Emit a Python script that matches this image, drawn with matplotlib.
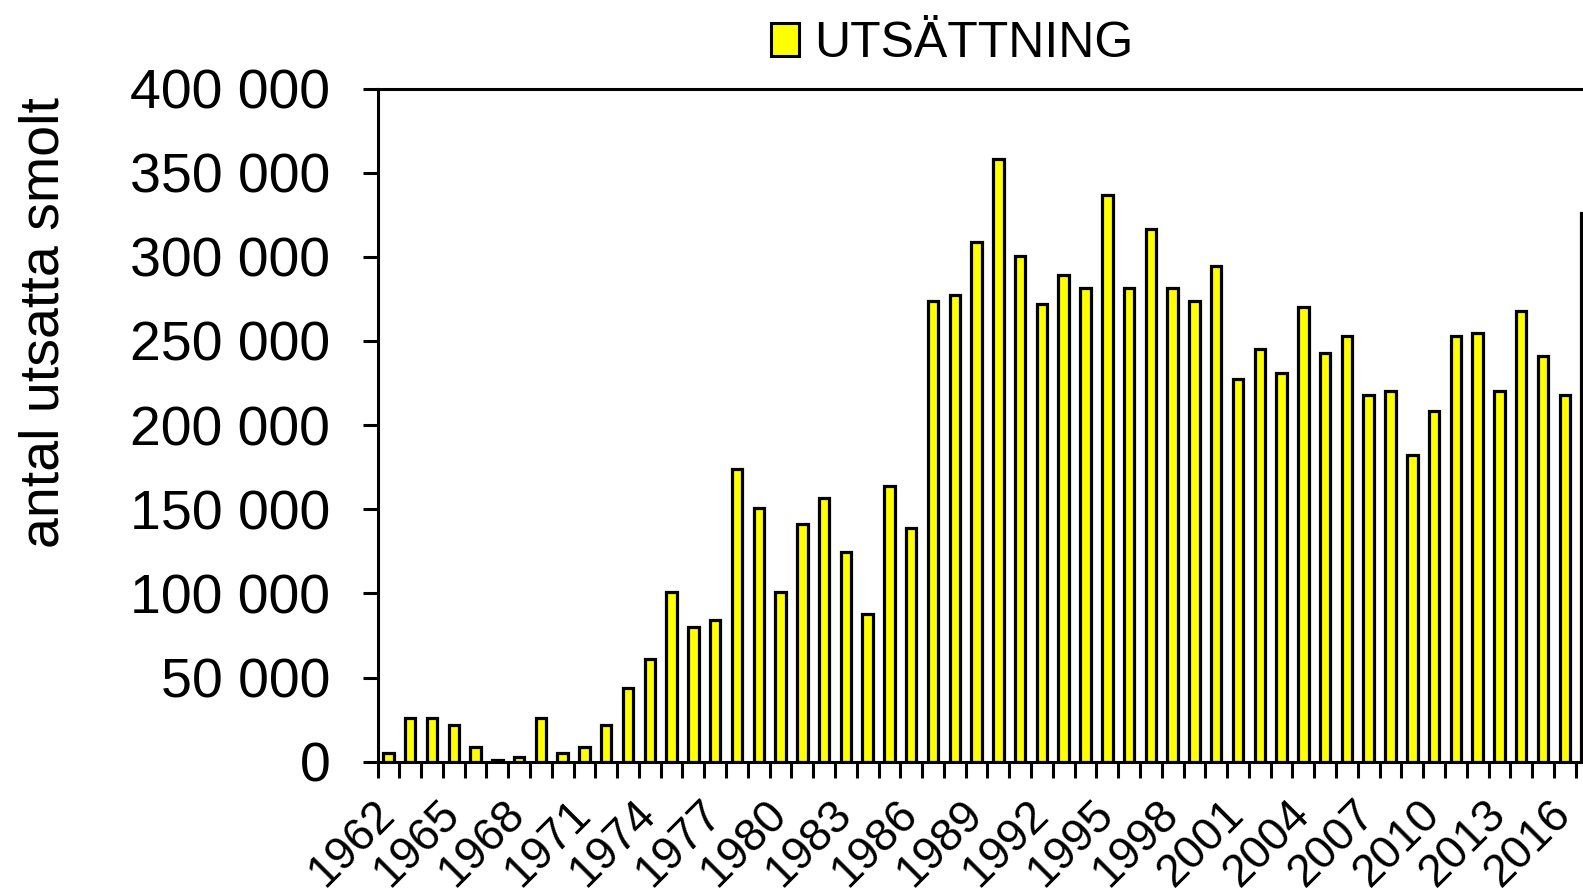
import matplotlib.pyplot as plt
import matplotlib.transforms as mtransforms
from matplotlib.patches import Patch
from matplotlib.ticker import FuncFormatter, MultipleLocator
import numpy as np

plt.rcParams['font.family'] = ['Liberation Sans', 'DejaVu Sans']

# --- DATA ---
years = list(range(1962, 2018))
smolt = [5000, 26000, 26000, 22000, 9000, 1000, 3000, 26000, 5000, 9000,
         22000, 43500, 61000, 101000, 80000, 84000, 174000, 151000, 101000, 141500,
         156500, 124500, 88000, 164000, 139000, 274000, 277500, 308500, 358000, 300500,
         272000, 289000, 281500, 337000, 281500, 316500, 281500, 274000, 294500, 227500,
         245000, 231000, 270000, 243000, 253000, 218000, 220000, 182000, 208500, 253000,
         254500, 220000, 268000, 241000, 218000, 326000]
label_years = list(range(1962, 2017, 3))
series_name = 'UTSÄTTNING'
ylabel = 'antal utsatta smolt'

W, H = 1583, 894
fig = plt.figure(figsize=(W / 100, H / 100), dpi=100)

# axes run past the right edge, like the cropped original
left, bottom = 377.5 / W, (H - 761.7) / H
top = (H - 88.5) / H
width = 56 * 21.785 / W
ax = fig.add_axes([left, bottom, width, top - bottom])

x = np.arange(len(years))
ax.bar(x, smolt, width=0.48, color='#ffff00', edgecolor='black',
       linewidth=2.3, zorder=3)

ax.set_xlim(-0.5, len(years) - 0.5)
ax.set_ylim(0, 400000)

for side in ['left', 'bottom', 'top']:
    ax.spines[side].set_linewidth(2.2)
ax.spines['right'].set_visible(False)

# y axis
ax.yaxis.set_major_locator(MultipleLocator(50000))
ax.yaxis.set_major_formatter(FuncFormatter(lambda v, p: f"{int(v):,}".replace(",", " ")))
ax.tick_params(axis='y', direction='out', length=11, width=2.2, pad=23,
               labelsize=40)

# x axis: boundary ticks every year, labels every third year
ax.set_xticks(np.arange(len(years) + 1) - 0.5, minor=True)
ax.set_xticks([years.index(y) for y in label_years])
ax.set_xticklabels([str(y) for y in label_years], rotation=45, ha='right',
                   va='top', fontsize=33)
ax.tick_params(axis='x', which='minor', direction='out', length=11.5, width=2.2)
ax.tick_params(axis='x', which='major', length=0, pad=22)
shift = mtransforms.ScaledTranslation(15 / 100, 0, fig.dpi_scale_trans)
for lbl in ax.get_xticklabels():
    lbl.set_transform(lbl.get_transform() + shift)

fig.text(45 / W, 1 - 323 / H, ylabel, rotation=90, ha='center', va='center',
         fontsize=40)

handle = Patch(facecolor='#ffff00', edgecolor='black', linewidth=2.2)
fig.legend([handle], [series_name], loc='center',
           bbox_to_anchor=(952 / W, 1 - 44 / H), frameon=False, fontsize=36,
           handlelength=0.57, handleheight=0.62, handletextpad=0.3, borderpad=0,
           borderaxespad=0)

fig.savefig('out.png', dpi=100)
